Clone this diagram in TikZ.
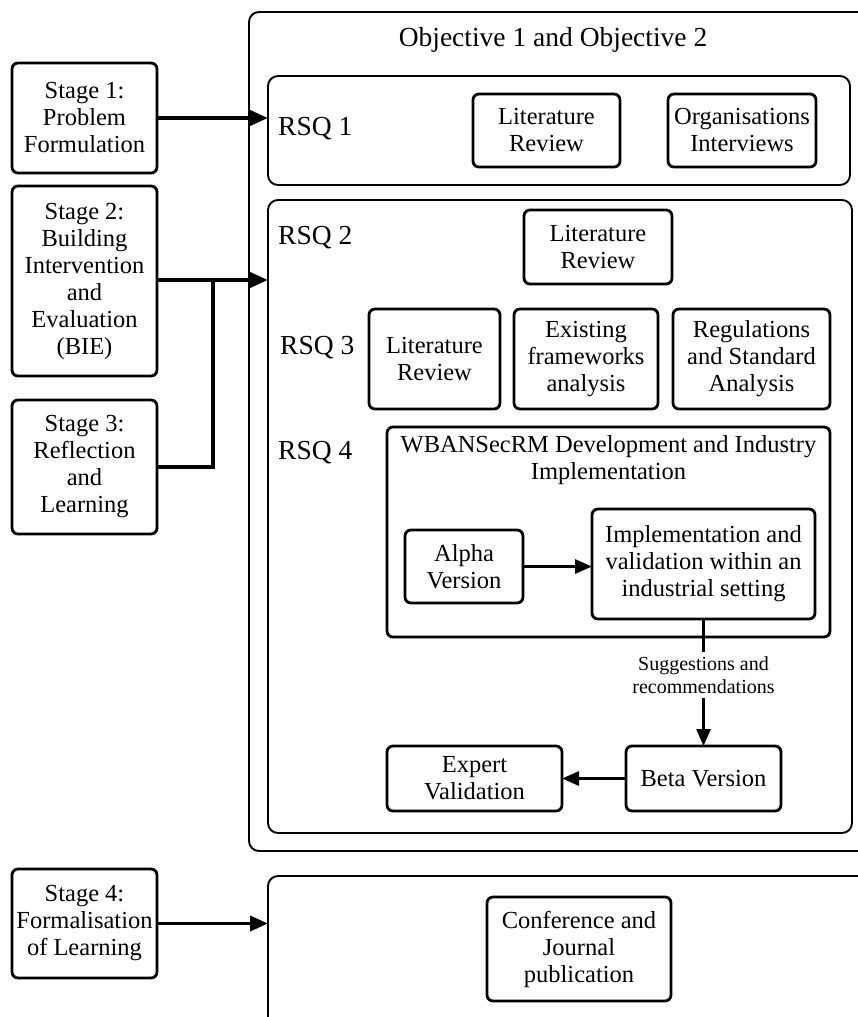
\documentclass[tikz,border=0pt]{standalone}
\usepackage{fontspec}
\setmainfont{Liberation Serif}
\usetikzlibrary{arrows.meta}
\newcommand{\fsz}[2]{\fontsize{#1}{#2}\selectfont}

\tikzset{
  stagebox/.style={draw, line width=2.8pt, rounded corners=6pt, align=center,
    inner sep=0pt, outer sep=0pt, font=\fsz{24.5}{27}},
  taskbox/.style={stagebox},
  container/.style={draw, line width=1.9pt, rounded corners=10pt,
    inner sep=0pt, outer sep=0pt},
  rsqlabel/.style={anchor=west, inner sep=0pt, font=\fsz{27.5}{30}},
  link/.style={line width=3.8pt, -{Triangle[length=18pt,width=15pt]}},
  plainlink/.style={line width=3.8pt},
  flow/.style={line width=3pt, -{Triangle[length=17pt,width=14pt]}},
  flowline/.style={line width=3pt},
}

\begin{document}
\begin{tikzpicture}[x=1pt,y=-1pt]
\useasboundingbox (0,0) rectangle (858,1017);

% containers
\node[container, minimum width=621pt, minimum height=839pt] (obj) at (559.5,431.5) {};
\node[font=\fsz{27.5}{30}, inner sep=0pt] (objtitle) at (553,40) {Objective 1 and Objective 2};
\node[container, minimum width=582pt, minimum height=109pt] (rsqone) at (559,130.5) {};
\node[container, minimum width=584pt, minimum height=633pt] (rsqrest) at (560,516.5) {};
\node[container, minimum width=612pt, minimum height=154pt] (pub) at (574,953) {};

% stages
\node[stagebox, minimum width=145pt, minimum height=110pt] (s1) at (84.5,118)
  {Stage 1:\\Problem\\Formulation};
\node[stagebox, minimum width=145pt, minimum height=190pt] (s2) at (84.5,281)
  {Stage 2:\\Building\\Intervention\\and\\Evaluation\\(BIE)};
\node[stagebox, minimum width=145pt, minimum height=134pt] (s3) at (84.5,467)
  {Stage 3:\\Reflection\\and\\Learning};
\node[stagebox, minimum width=145pt, minimum height=109pt] (s4) at (84.5,923.5)
  {Stage 4:\\Formalisation\\of Learning};

% research sub-questions
\node[rsqlabel] (q1) at (278,129) {RSQ 1};
\node[rsqlabel] (q2) at (278,238) {RSQ 2};
\node[rsqlabel] (q3) at (280,348) {RSQ 3};
\node[rsqlabel] (q4) at (278,453) {RSQ 4};

\node[taskbox, minimum width=147pt, minimum height=73pt] (lr1) at (546.5,130.5) {Literature\\Review};
\node[taskbox, minimum width=148pt, minimum height=73pt] (oi1) at (742,130.5) {Organisations\\Interviews};
\node[taskbox, minimum width=148pt, minimum height=74pt] (lr2) at (598,247) {Literature\\Review};
\node[taskbox, minimum width=131pt, minimum height=100pt] (lr3) at (434.5,359) {Literature\\Review};
\node[taskbox, minimum width=144pt, minimum height=100pt] (ef3) at (586,359) {Existing\\frameworks\\analysis};
\node[taskbox, minimum width=157pt, minimum height=100pt] (rg3) at (751.5,359) {Regulations\\and Standard\\Analysis};

% model development
\node[taskbox, minimum width=443pt, minimum height=210pt] (wban) at (608.5,532) {};
\node[font=\fsz{24.5}{27}, align=center, inner sep=0pt] (wbantitle) at (608.5,460)
  {WBANSecRM Development and Industry\\Implementation};
\node[taskbox, minimum width=118pt, minimum height=73pt] (alpha) at (464,566.5) {Alpha\\Version};
\node[taskbox, minimum width=223pt, minimum height=110pt] (impl) at (703.5,564)
  {Implementation and\\validation within an\\industrial setting};
\node[font=\fsz{20}{23}, align=center, inner sep=0pt, minimum height=46pt] (sug) at (703.5,675)
  {Suggestions and\\recommendations};
\node[taskbox, minimum width=155pt, minimum height=65pt] (beta) at (703.5,778.5) {Beta Version};
\node[taskbox, minimum width=175pt, minimum height=65pt] (expert) at (474.5,778.5) {Expert\\Validation};
\node[taskbox, minimum width=184pt, minimum height=104pt] (conf) at (579,949)
  {Conference and\\Journal\\publication};

% stage connectors
\coordinate (j) at (213,280);
\draw[link] (s1.east) -- (rsqone.west |- s1.east);
\draw[plainlink] (s2.east |- j) -- (j);
\draw[plainlink, line join=miter] (s3.east) -- (j |- s3.east) -- (j);
\draw[link] (j) -- (rsqrest.west |- j);
\draw[link] (s4.east) -- (pub.west |- s4.east);

% flow inside RSQ 4
\draw[flow] (alpha.east) -- (impl.west |- alpha.east);
\draw[flowline] (impl.south) -- (sug.north);
\draw[flow] (sug.south) -- (beta.north);
\draw[flow] (beta.west) -- (expert.east);
\end{tikzpicture}
\end{document}
